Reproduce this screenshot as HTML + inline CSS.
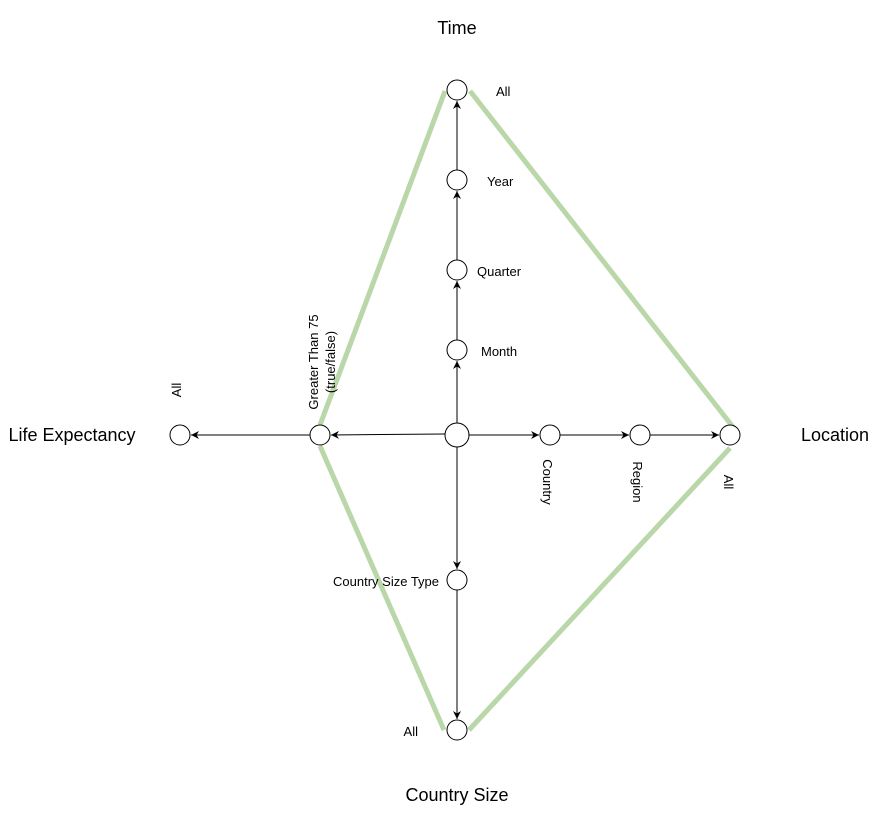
<!DOCTYPE html>
<html><head><meta charset="utf-8"><style>
html,body{margin:0;padding:0;background:#fff;}
svg{display:block;font-family:"Liberation Sans",Arial,sans-serif;}
</style></head><body>
<svg width="881" height="831" viewBox="0 0 881 831" xmlns="http://www.w3.org/2000/svg">
<defs>
<marker id="a" markerWidth="10" markerHeight="10" refX="9" refY="5" orient="auto" markerUnits="userSpaceOnUse">
<path d="M1,1 L9,5 L1,9 L3.5,5 Z" fill="#000"/>
</marker>
</defs>
<g stroke="#b9d7a8" stroke-width="5" fill="none">
<path d="M445,91 L320,425"/>
<path d="M470,91 L733,427"/>
<path d="M320,446 L444,730"/>
<path d="M469,730 L730,448"/>
</g>
<g stroke="#000" stroke-width="1" fill="none">
<line x1="457" y1="423" x2="457" y2="361" marker-end="url(#a)"/>
<line x1="457" y1="340" x2="457" y2="281" marker-end="url(#a)"/>
<line x1="457" y1="260" x2="457" y2="191" marker-end="url(#a)"/>
<line x1="457" y1="170" x2="457" y2="101" marker-end="url(#a)"/>
<line x1="445" y1="434" x2="331" y2="435" marker-end="url(#a)"/>
<line x1="310" y1="435" x2="191" y2="435" marker-end="url(#a)"/>
<line x1="469" y1="435" x2="539" y2="435" marker-end="url(#a)"/>
<line x1="560" y1="435" x2="629" y2="435" marker-end="url(#a)"/>
<line x1="650" y1="435" x2="719" y2="435" marker-end="url(#a)"/>
<line x1="457" y1="447" x2="457" y2="569" marker-end="url(#a)"/>
<line x1="457" y1="590" x2="457" y2="719" marker-end="url(#a)"/>
</g>
<g stroke="#000" stroke-width="1" fill="#fff">
<circle cx="457" cy="435" r="12"/>
<circle cx="457" cy="350" r="10"/>
<circle cx="457" cy="270" r="10"/>
<circle cx="457" cy="180" r="10"/>
<circle cx="457" cy="90" r="10"/>
<circle cx="320" cy="435" r="10"/>
<circle cx="180" cy="435" r="10"/>
<circle cx="550" cy="435" r="10"/>
<circle cx="640" cy="435" r="10"/>
<circle cx="730" cy="435" r="10"/>
<circle cx="457" cy="580" r="10"/>
<circle cx="457" cy="730" r="10"/>
</g>
<g font-size="13" fill="#000">
<text x="496" y="96">All</text>
<text x="487" y="186">Year</text>
<text x="477" y="276">Quarter</text>
<text x="481" y="356">Month</text>
<text x="439" y="586" text-anchor="end">Country Size Type</text>
<text x="418" y="736" text-anchor="end">All</text>
<text transform="translate(181,390) rotate(-90)" text-anchor="middle">All</text>
<text transform="translate(318,362) rotate(-90)" text-anchor="middle">Greater Than 75</text>
<text transform="translate(335,362) rotate(-90)" text-anchor="middle">(true/false)</text>
<text transform="translate(543,482) rotate(90)" text-anchor="middle">Country</text>
<text transform="translate(633,482) rotate(90)" text-anchor="middle">Region</text>
<text transform="translate(724,482) rotate(90)" text-anchor="middle">All</text>
</g>
<g font-size="18" fill="#000">
<text x="457" y="34" text-anchor="middle">Time</text>
<text x="72" y="441" text-anchor="middle">Life Expectancy</text>
<text x="835" y="441" text-anchor="middle">Location</text>
<text x="457" y="801" text-anchor="middle">Country Size</text>
</g>
</svg>
</body></html>
